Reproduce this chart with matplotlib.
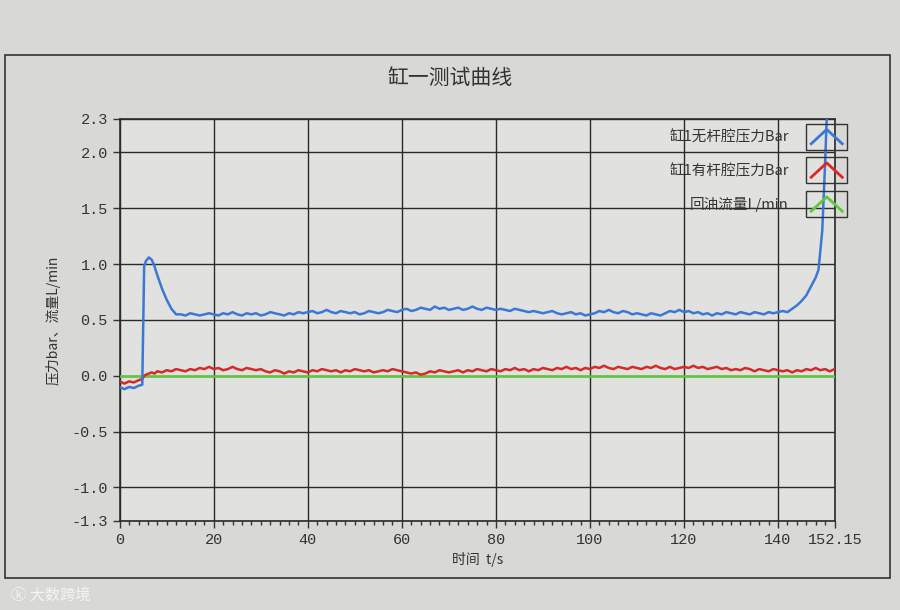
import numpy as np
import matplotlib
matplotlib.use('Agg')
import matplotlib.pyplot as plt
from matplotlib.legend_handler import HandlerBase
from matplotlib.lines import Line2D
from matplotlib.patches import Rectangle

plt.rcParams['font.family'] = ['Noto Sans CJK SC', 'DejaVu Sans']

# ---- 数据 ----
TITLE = '缸一测试曲线'
SERIES_NAMES = ['缸1无杆腔压力Bar', '缸1有杆腔压力Bar', '回油流量L/min']

# 起始段 (不等间距)
t_head = [0, 1, 2, 3, 4, 4.8, 5.2, 5.6, 6.2, 6.8, 7.4, 8, 9, 10, 11, 12]
blue_head = [-0.10, -0.12, -0.10, -0.11, -0.09, -0.08, 0.98, 1.03, 1.06, 1.04,
             0.98, 0.90, 0.78, 0.68, 0.60, 0.55]
red_head = [-0.05, -0.07, -0.05, -0.06, -0.04, -0.03, 0.00, 0.01, 0.02, 0.03,
            0.02, 0.04, 0.03, 0.05, 0.04, 0.06]

# 13 s .. 148 s, 每秒一个点
blue_mid = [
    0.55, 0.54, 0.56, 0.55, 0.54, 0.55, 0.56, 0.55,
    0.54, 0.56, 0.55, 0.57, 0.55, 0.54, 0.56, 0.55, 0.56, 0.54,
    0.55, 0.57, 0.56, 0.55, 0.54, 0.56, 0.55, 0.57, 0.56, 0.57,
    0.58, 0.56, 0.57, 0.59, 0.57, 0.56, 0.58, 0.57, 0.56, 0.57,
    0.55, 0.56, 0.58, 0.57, 0.56, 0.57, 0.59, 0.58, 0.57, 0.59,
    0.60, 0.58, 0.59, 0.61, 0.60, 0.59, 0.62, 0.60, 0.61, 0.59,
    0.60, 0.61, 0.59, 0.60, 0.62, 0.60, 0.59, 0.61, 0.60, 0.59,
    0.60, 0.59, 0.58, 0.60, 0.59, 0.58, 0.57, 0.58, 0.57, 0.56,
    0.57, 0.58, 0.56, 0.55, 0.56, 0.57, 0.55, 0.56, 0.54, 0.55,
    0.56, 0.58, 0.57, 0.59, 0.57, 0.56, 0.58, 0.57, 0.55, 0.56,
    0.55, 0.54, 0.56, 0.55, 0.54, 0.56, 0.58, 0.57, 0.59, 0.57,
    0.58, 0.56, 0.57, 0.55, 0.56, 0.54, 0.56, 0.55, 0.57, 0.56,
    0.55, 0.57, 0.56, 0.55, 0.57, 0.56, 0.55, 0.57, 0.56, 0.57,
    0.58, 0.57, 0.60, 0.63, 0.67, 0.72, 0.80, 0.88,
]
# 末端急升
t_blue_tail = [148.6, 149.4, 150.0, 150.6, 151.0]
blue_tail = [0.95, 1.30, 1.90, 2.60, 3.00]

# 13 s .. 152 s
red_mid = [
    0.05, 0.04, 0.06, 0.05, 0.07, 0.06, 0.08, 0.06,
    0.07, 0.05, 0.06, 0.08, 0.06, 0.05, 0.07, 0.06, 0.05, 0.06,
    0.04, 0.03, 0.05, 0.04, 0.02, 0.04, 0.03, 0.05, 0.04, 0.03,
    0.05, 0.04, 0.06, 0.05, 0.04, 0.05, 0.03, 0.05, 0.04, 0.06,
    0.05, 0.04, 0.05, 0.03, 0.04, 0.05, 0.04, 0.06, 0.05, 0.04,
    0.03, 0.02, 0.03, 0.01, 0.02, 0.04, 0.03, 0.05, 0.04, 0.03,
    0.04, 0.05, 0.03, 0.05, 0.04, 0.06, 0.05, 0.04, 0.06, 0.05,
    0.04, 0.06, 0.05, 0.07, 0.05, 0.06, 0.04, 0.06, 0.05, 0.07,
    0.06, 0.05, 0.07, 0.06, 0.08, 0.06, 0.07, 0.05, 0.07, 0.06,
    0.08, 0.07, 0.09, 0.07, 0.06, 0.08, 0.07, 0.06, 0.08, 0.07,
    0.06, 0.08, 0.07, 0.09, 0.07, 0.06, 0.08, 0.06, 0.07, 0.08,
    0.07, 0.09, 0.07, 0.08, 0.06, 0.07, 0.08, 0.06, 0.07, 0.05,
    0.06, 0.05, 0.07, 0.06, 0.04, 0.06, 0.05, 0.04, 0.06, 0.05,
    0.04, 0.05, 0.03, 0.05, 0.04, 0.06, 0.05, 0.07, 0.05, 0.06, 0.04, 0.06,
]

t_green = [0, 152.15]
green = [0.0, 0.0]

x_ticks = [0, 20, 40, 60, 80, 100, 120, 140, 152.15]
x_tick_labels = ['0', '20', '40', '60', '80', '100', '120', '140', '152.15']
y_ticks = [-1.3, -1.0, -0.5, 0.0, 0.5, 1.0, 1.5, 2.0, 2.3]
y_tick_labels = ['-1.3', '-1.0', '-0.5', '0.0', '0.5', '1.0', '1.5', '2.0', '2.3']

COLORS = ['#3b78d4', '#d62a26', '#5fc83c']


class CaretHandler(HandlerBase):
    """图例里带方框的 ^ 形线"""
    def create_artists(self, legend, orig_handle, xdescent, ydescent,
                       width, height, fontsize, trans):
        x0, y0 = -xdescent, -ydescent
        box = Rectangle((x0, y0 - 0.5 * height), width, 2.0 * height,
                        fill=False, edgecolor='#333333', lw=1.0, transform=trans)
        line = Line2D([x0 + 0.12 * width, x0 + 0.5 * width, x0 + 0.88 * width],
                      [y0 - 0.05 * height, y0 + 1.05 * height, y0 - 0.05 * height],
                      color=orig_handle.get_color(), lw=2.0, transform=trans)
        return [box, line]


def main():
    t_mid = np.arange(13, 13 + len(red_mid))
    t_blue = np.concatenate([t_head, t_mid[:len(blue_mid)], t_blue_tail])
    y_blue = np.concatenate([blue_head, blue_mid, blue_tail])
    t_red = np.concatenate([t_head, t_mid])
    y_red = np.concatenate([red_head, red_mid])

    fig = plt.figure(figsize=(9, 6.1), dpi=100, facecolor='#d8d8d6')
    ax = fig.add_axes([0.133, 0.146, 0.795, 0.659])
    ax.set_facecolor('#e1e1df')

    # 外框
    fig.patches.append(Rectangle((0.006, 0.052), 0.983, 0.858, transform=fig.transFigure,
                                 fill=False, edgecolor='#333333', lw=1.2))

    ax.plot(t_green, green, color=COLORS[2], lw=1.8, label=SERIES_NAMES[2], zorder=3)
    ax.plot(t_red, y_red, color=COLORS[1], lw=1.8, label=SERIES_NAMES[1], zorder=4)
    ax.plot(t_blue, y_blue, color=COLORS[0], lw=1.8, label=SERIES_NAMES[0], zorder=5)

    ax.set_xlim(0, 152.15)
    ax.set_ylim(-1.3, 2.3)
    ax.set_xticks(x_ticks)
    ax.set_xticklabels(x_tick_labels)
    ax.set_xticks(np.arange(0, 152, 2), minor=True)
    ax.set_yticks(y_ticks)
    ax.set_yticklabels(y_tick_labels)
    for lab in ax.get_xticklabels() + ax.get_yticklabels():
        lab.set_family(['Liberation Mono', 'DejaVu Sans'])
        lab.set_fontsize(11)
        lab.set_color('#333333')
    ax.tick_params(axis='both', which='major', length=5, width=1, color='#333333')
    ax.tick_params(axis='x', which='minor', length=3, width=1, color='#333333')

    ax.grid(True, which='major', color='#2a2a2a', lw=1.0)
    for s in ax.spines.values():
        s.set_color('#2a2a2a')
        s.set_linewidth(1.2)

    ax.set_xlabel('时间  t/s', fontsize=10, color='#333333', labelpad=4)
    ax.set_ylabel('压力bar、流量L/min', fontsize=10, color='#333333', labelpad=8)
    fig.text(0.5, 0.872, TITLE, ha='center', va='center', fontsize=15, color='#333333')

    handles, labels = ax.get_legend_handles_labels()
    order = [2, 1, 0]
    leg = ax.legend([handles[i] for i in order], [labels[i] for i in order],
                    loc='upper right', bbox_to_anchor=(1.035, 1.005), frameon=False,
                    markerfirst=False, handlelength=2.8, handleheight=1.0,
                    labelspacing=1.3, handletextpad=1.2, fontsize=10.5,
                    handler_map={Line2D: CaretHandler()})
    for txt in leg.get_texts():
        txt.set_color('#333333')

    fig.text(0.012, 0.025, 'ⓚ 大数跨境', fontsize=11, color='#f4f4f4', ha='left', va='center')

    fig.savefig('out.png', dpi=100, facecolor=fig.get_facecolor())
    plt.close(fig)


if __name__ == '__main__':
    main()
